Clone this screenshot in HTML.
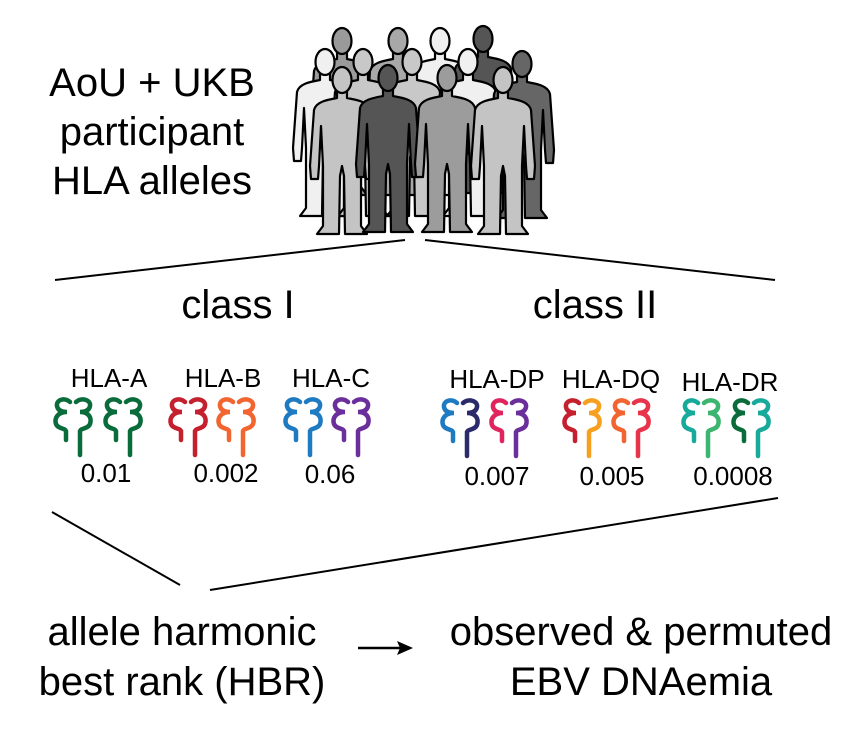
<!DOCTYPE html>
<html><head><meta charset="utf-8"><style>
body{margin:0;background:#fff}
svg{display:block}
text{font-family:"Liberation Sans",Arial,sans-serif;fill:#000}
</style></head><body>
<svg width="854" height="752" viewBox="0 0 854 752" xmlns="http://www.w3.org/2000/svg">
<defs>
<symbol id="p" viewBox="-32 0 64 172" overflow="visible">
<g stroke="#000" stroke-width="2.2" stroke-linejoin="round">
<path d="M-5,24 L-5,32 C-16,34 -26,36 -28,44 L-32,100 L-31,113 L-24,113 L-23,100 L-21,60 L-19,100 L-19,160 L-25,168 L-3,168 L-2,110 L0,100 L2,110 L3,168 L25,168 L19,160 L19,100 L21,60 L23,100 L24,113 L31,113 L32,100 L28,44 C26,36 16,34 5,32 L5,24 Z"/>
<ellipse cx="0" cy="14" rx="9.5" ry="13"/>
</g>
</symbol>
<symbol id="L" viewBox="0 0 36 60" overflow="visible">
<path d="M15,4 C9,-1 1,2 2,8 C3,13 8,14 12,14 C3,14 -1,20 1,26 C3,31 10,30 11,33 L11,42" fill="none" stroke-width="4.5" stroke-linecap="round"/>
</symbol>
<symbol id="R" viewBox="0 0 36 60" overflow="visible">
<path d="M21,4 C27,-1 36,2 35,8 C34,13 29,14 25,14 C34,14 37,20 35,26 C33,31 26,30 25,33 L25,57" fill="none" stroke-width="4.5" stroke-linecap="round"/>
</symbol>
</defs>

<text x="152" y="96" font-size="40" text-anchor="middle">AoU + UKB</text>
<text x="152" y="145" font-size="40" text-anchor="middle">participant</text>
<text x="152" y="194" font-size="40" text-anchor="middle">HLA alleles</text>

<use href="#p" x="310" y="27" width="64" height="172" fill="#9a9a9a"/>
<use href="#p" x="366" y="27" width="64" height="172" fill="#a8a8a8"/>
<use href="#p" x="408" y="27" width="64" height="172" fill="#f0f0f0"/>
<use href="#p" x="451" y="25" width="64" height="172" fill="#555"/>
<use href="#p" x="293" y="48" width="64" height="172" fill="#f0f0f0"/>
<use href="#p" x="331" y="48" width="64" height="172" fill="#c8c8c8"/>
<use href="#p" x="380" y="48" width="64" height="172" fill="#c8c8c8"/>
<use href="#p" x="436" y="48" width="64" height="172" fill="#f0f0f0"/>
<use href="#p" x="490" y="50" width="64" height="172" fill="#666"/>
<use href="#p" x="310" y="66" width="64" height="172" fill="#c4c4c4"/>
<use href="#p" x="356" y="64" width="64" height="172" fill="#555"/>
<use href="#p" x="415" y="64" width="64" height="172" fill="#9c9c9c"/>
<use href="#p" x="471" y="66" width="64" height="172" fill="#c4c4c4"/>

<g stroke="#000" stroke-width="2" fill="none">
<line x1="55" y1="280" x2="405" y2="240"/>
<line x1="425" y1="240" x2="775" y2="280"/>
<line x1="52" y1="512" x2="180" y2="585"/>
<line x1="210" y1="590" x2="778" y2="498"/>
<line x1="358" y1="648" x2="400" y2="648" stroke-width="2.5"/>
</g>
<path d="M413,648 L397,641 L400,648 L397,655 Z" fill="#000"/>

<text x="238" y="318" font-size="40" text-anchor="middle">class I</text>
<text x="595" y="318" font-size="40" text-anchor="middle">class II</text>

<g font-size="26" text-anchor="middle">
<text x="109" y="387">HLA-A</text>
<text x="223" y="387">HLA-B</text>
<text x="331" y="387">HLA-C</text>
<text x="497" y="388">HLA-DP</text>
<text x="611" y="388">HLA-DQ</text>
<text x="730" y="391">HLA-DR</text>
<text x="106" y="482">0.01</text>
<text x="226" y="482">0.002</text>
<text x="330" y="483">0.06</text>
<text x="497" y="485">0.007</text>
<text x="612" y="485">0.005</text>
<text x="733" y="485">0.0008</text>
</g>

<g>
<use href="#L" x="55" y="398" width="36" height="60" stroke="#0a6b3b"/><use href="#R" x="55" y="398" width="36" height="60" stroke="#0a6b3b"/>
<use href="#L" x="105" y="398" width="36" height="60" stroke="#0a6b3b"/><use href="#R" x="105" y="398" width="36" height="60" stroke="#0a6b3b"/>
<use href="#L" x="170" y="398" width="36" height="60" stroke="#c4202e"/><use href="#R" x="170" y="398" width="36" height="60" stroke="#c4202e"/>
<use href="#L" x="218" y="398" width="36" height="60" stroke="#f26530"/><use href="#R" x="218" y="398" width="36" height="60" stroke="#f26530"/>
<use href="#L" x="285" y="398" width="36" height="60" stroke="#1f7bc1"/><use href="#R" x="285" y="398" width="36" height="60" stroke="#1f7bc1"/>
<use href="#L" x="333" y="398" width="36" height="60" stroke="#6a2f9a"/><use href="#R" x="333" y="398" width="36" height="60" stroke="#6a2f9a"/>
<use href="#L" x="442" y="399" width="36" height="60" stroke="#1f7bc1"/><use href="#R" x="442" y="399" width="36" height="60" stroke="#2b2a6b"/>
<use href="#L" x="491" y="399" width="36" height="60" stroke="#e0245e"/><use href="#R" x="491" y="399" width="36" height="60" stroke="#6a2f9a"/>
<use href="#L" x="564" y="399" width="36" height="60" stroke="#c4202e"/><use href="#R" x="564" y="399" width="36" height="60" stroke="#f7a020"/>
<use href="#L" x="613" y="399" width="36" height="60" stroke="#f26530"/><use href="#R" x="613" y="399" width="36" height="60" stroke="#e8344a"/>
<use href="#L" x="683" y="399" width="36" height="60" stroke="#17a99a"/><use href="#R" x="683" y="399" width="36" height="60" stroke="#3bb56f"/>
<use href="#L" x="733" y="399" width="36" height="60" stroke="#0a6b3b"/><use href="#R" x="733" y="399" width="36" height="60" stroke="#17a99a"/>
</g>

<text x="182" y="645" font-size="40" text-anchor="middle">allele harmonic</text>
<text x="182" y="695" font-size="40" text-anchor="middle">best rank (HBR)</text>
<text x="641" y="645" font-size="40" text-anchor="middle">observed &amp; permuted</text>
<text x="641" y="695" font-size="40" text-anchor="middle">EBV DNAemia</text>
</svg>
</body></html>
